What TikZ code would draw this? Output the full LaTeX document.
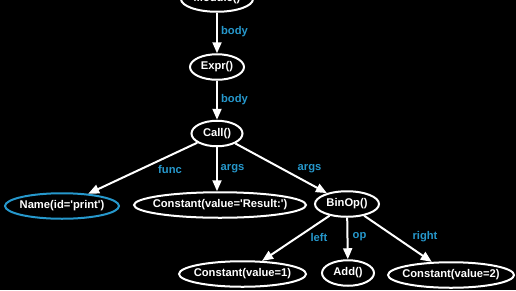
\documentclass[tikz,border=0pt]{standalone}
\usepackage{fontspec}
\setmainfont{Liberation Sans}
\usetikzlibrary{
  arrows.meta,
  shapes.geometric
}
\definecolor{fieldblue}{RGB}{38,152,204}

\begin{document}
\begin{tikzpicture}[x=1pt, y=-1pt,
    astnode/.style={ellipse, draw=white, line width=2pt, text=white,
      font=\fontsize{11.2}{12}\selectfont\bfseries,
      inner xsep=-40pt, inner ysep=0pt, minimum height=25.5pt},
    fieldlabel/.style={text=fieldblue, font=\fontsize{11.2}{12}\selectfont\bfseries, inner sep=0pt},
    astedge/.style={draw=white, line width=2pt, -{Triangle[length=11pt, width=9pt]}}]
  \fill[black] (0,0) rectangle (516,290);
  \clip (0,0) rectangle (516,290);

  % Top chain
  \node[astnode, minimum width=72pt] (module) at (217,-1) {Module()};
  \node[astnode, minimum width=54pt] (expr) at (217,67) {Expr()};
  \node[astnode, minimum width=51pt] (call) at (217,133.5) {Call()};

  % Call children
  \node[astnode, draw=fieldblue, minimum width=114pt] (name) at (62,206) {Name(id=\textquotesingle print\textquotesingle)};
  \node[astnode, minimum width=172pt] (result) at (220,205) {Constant(value=\textquotesingle Result:\textquotesingle)};
  \node[astnode, minimum width=64pt] (binop) at (347,204) {BinOp()};

  % BinOp children
  \node[astnode, minimum width=127pt] (one) at (242.5,274) {Constant(value=1)};
  \node[astnode, minimum width=52pt] (add) at (348,273) {Add()};
  \node[astnode, minimum width=126pt] (two) at (451,275) {Constant(value=2)};

  % Edges
  \draw[astedge] (module) -- (expr);
  \draw[astedge] (expr) -- (call);
  \draw[astedge] (call) -- (name);
  \draw[astedge] (call.south) -- (call.south |- result.north);
  \draw[astedge] (call) -- (binop);
  \draw[astedge] (binop) -- (one);
  \draw[astedge] (binop) -- (add);
  \draw[astedge] (binop) -- (two);

  % Field labels
  \node[fieldlabel] (bodyone) at (234.5,32) {body};
  \node[fieldlabel] (bodytwo) at (234.5,100) {body};
  \node[fieldlabel] (func) at (170,169) {func};
  \node[fieldlabel] (argsone) at (232.5,169) {args};
  \node[fieldlabel] (argstwo) at (309.5,169) {args};
  \node[fieldlabel] (left) at (319,237) {left};
  \node[fieldlabel] (op) at (359.5,237) {op};
  \node[fieldlabel] (right) at (425,237) {right};
\end{tikzpicture}
\end{document}
